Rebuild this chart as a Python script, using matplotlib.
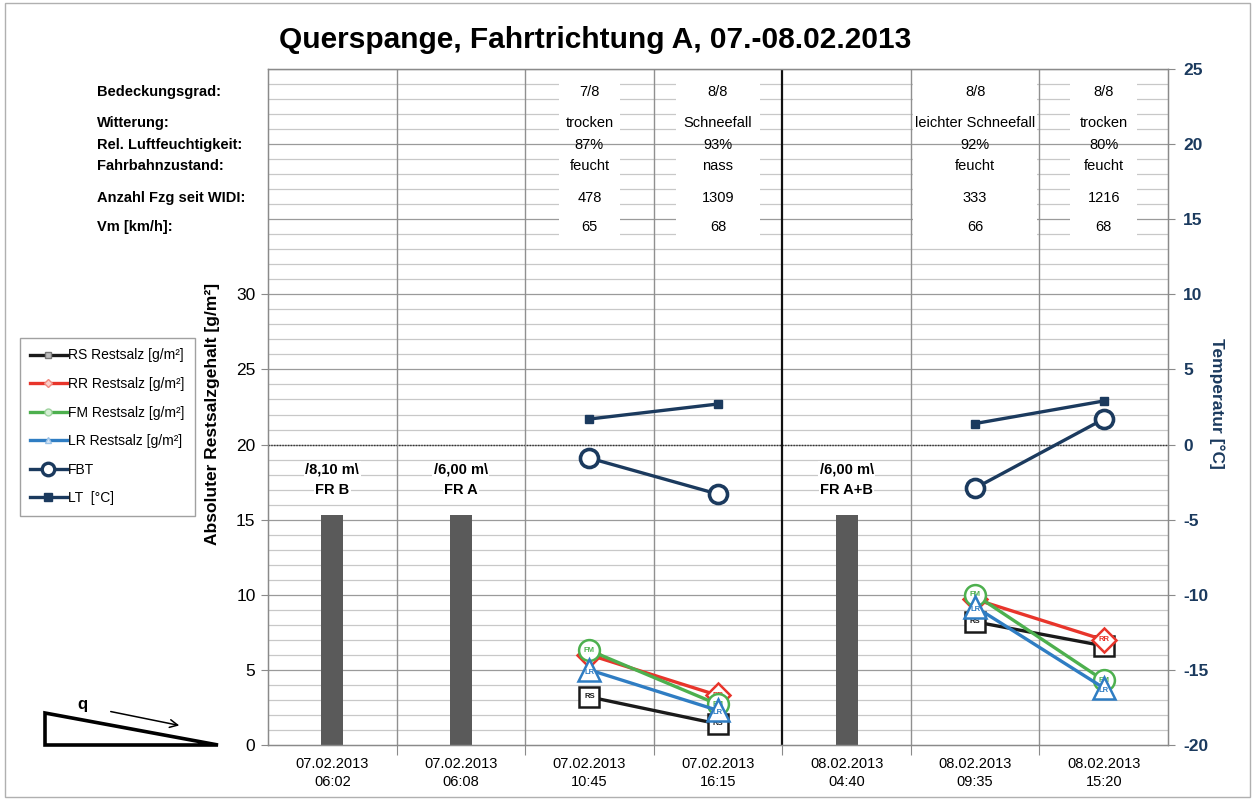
import numpy as np
import matplotlib
matplotlib.use("Agg")
import matplotlib.pyplot as plt
import matplotlib.transforms as mtransforms
from matplotlib.lines import Line2D
from matplotlib.patches import Rectangle, Polygon, FancyArrowPatch

plt.rcParams['font.family'] = ['Liberation Sans', 'DejaVu Sans']
plt.rcParams['axes.unicode_minus'] = False

# ---------------------------------------------------------------- data
categories = ["07.02.2013\n06:02", "07.02.2013\n06:08", "07.02.2013\n10:45",
              "07.02.2013\n16:15", "08.02.2013\n04:40", "08.02.2013\n09:35",
              "08.02.2013\n15:20"]

# spreading sections (bars)
bar_idx = [0, 1, 4]
bar_height = [15.3, 15.3, 15.3]
bar_width_txt = ["/8,10 m\\", "/6,00 m\\", "/6,00 m\\"]
bar_dir_txt = ["FR B", "FR A", "FR A+B"]

# residual salt [g/m²] (NaN = no measurement)
nan = np.nan
rs = [nan, nan, 3.2, 1.4, nan, 8.2, 6.6]
rr = [nan, nan, 6.0, 3.3, nan, 9.7, 7.0]
fm = [nan, nan, 6.3, 2.7, nan, 10.0, 4.3]
lr = [nan, nan, 5.0, 2.3, nan, 9.2, 3.8]

# temperatures [°C]
fbt = [nan, nan, -0.9, -3.3, nan, -2.9, 1.7]
lt = [nan, nan, 1.7, 2.7, nan, 1.4, 2.9]

# weather info table
info_rows = ["Bedeckungsgrad:", "Witterung:", "Rel. Luftfeuchtigkeit:",
             "Fahrbahnzustand:", "Anzahl Fzg seit WIDI:", "Vm [km/h]:"]
info_cols = [2, 3, 5, 6]
bedeckung = ["7/8", "8/8", "8/8", "8/8"]
witterung = ["trocken", "Schneefall", "leichter Schneefall", "trocken"]
feuchte = ["87%", "93%", "92%", "80%"]
fahrbahn = ["feucht", "nass", "feucht", "feucht"]
anzahl = ["478", "1309", "333", "1216"]
vm = ["65", "68", "66", "68"]

# ---------------------------------------------------------------- style
W, H = 1255, 800
navy = "#1B3A5E"
c_rs, c_rr, c_fm, c_lr = "#1a1a1a", "#E8352B", "#4DB04E", "#2F7DC3"

fig = plt.figure(figsize=(W / 100, H / 100), dpi=100)
L, R, T, B = 268, 1168, 69, 745
ax = fig.add_axes([L / W, 1 - B / H, (R - L) / W, (B - T) / H])
ax.set_xlim(-0.5, 6.5)
ax.set_ylim(0, 45)

# horizontal grid
for y in range(1, 46):
    ax.axhline(y, color="#9a9a9a" if y % 5 == 0 else "#c8c8c8",
               lw=0.9, zorder=0.5)
ax.axhline(20, color="#333333", lw=1.0, ls=(0, (1, 1)), zorder=0.6)

# vertical separators
for xs in np.arange(0.5, 6.5, 1.0):
    if xs == 3.5:
        ax.axvline(xs, color="#111111", lw=1.6, zorder=0.7)
    else:
        ax.axvline(xs, color="#909090", lw=1.0, zorder=0.7)

for sp in ax.spines.values():
    sp.set_color("#8a8a8a")
    sp.set_linewidth(1.0)

# bars with section labels
ax.bar(bar_idx, bar_height, width=0.17, color="#5a5a5a", zorder=2)
for xi, t1, t2 in zip(bar_idx, bar_width_txt, bar_dir_txt):
    ax.text(xi, 18.35, t1, ha="center", va="center", fontsize=10.5,
            fontweight="bold", zorder=3,
            bbox=dict(facecolor="white", edgecolor="none", pad=1))
    ax.text(xi, 17.0, t2, ha="center", va="center", fontsize=10.5,
            fontweight="bold", zorder=3,
            bbox=dict(facecolor="white", edgecolor="none", pad=1))

x = np.arange(len(categories))

# residual salt series
series = [(rs, c_rs, "s", "RS", 15), (rr, c_rr, "D", "RR", 12),
          (fm, c_fm, "o", "FM", 15), (lr, c_lr, "^", "LR", 16)]
for k, (vals, col, mk, tag, ms) in enumerate(series):
    ax.plot(x, vals, color=col, lw=2.4, marker=mk, ms=ms, mfc="white",
            mec=col, mew=1.8, zorder=4 + k)
    for xi, v in zip(x, vals):
        if not np.isnan(v):
            dy = -0.15 if mk == "^" else 0
            ax.text(xi, v + dy, tag, ha="center", va="center", fontsize=5.5,
                    fontweight="bold", color=col, zorder=4.5 + k)

# left axis ticks / labels
ax.set_yticks(range(0, 31, 5))
ax.tick_params(axis="y", direction="out", length=5, color="#8a8a8a",
               labelsize=12.5, pad=4)
ax.set_xticks(np.arange(0.5, 6.5, 1.0))
ax.set_xticklabels([])
ax.set_xticks(x, minor=True)
ax.set_xticklabels(categories, minor=True, fontsize=10.5, linespacing=1.35)
ax.tick_params(axis="x", which="major", direction="out", length=7,
               color="#8a8a8a")
ax.tick_params(axis="x", which="minor", length=0, pad=9)
ax.set_ylabel("Absoluter Restsalzgehalt [g/m²]", fontsize=12.5,
              fontweight="bold", labelpad=4)
ax.yaxis.set_label_coords(-0.053, 0.49)

# temperature axis
ax2 = ax.twinx()
ax2.set_ylim(-20, 25)
ax2.plot(x, lt, color=navy, lw=2.4, marker="s", ms=6, zorder=5)
ax2.plot(x, fbt, color=navy, lw=2.4, marker="o", ms=13, mfc="white",
         mec=navy, mew=2.6, zorder=5)
ax2.set_yticks(range(-20, 26, 5))
ax2.tick_params(axis="y", direction="out", length=5, color="#8a8a8a",
                labelsize=12.5, labelcolor=navy, pad=6)
for lab in ax2.get_yticklabels():
    lab.set_fontweight("bold")
ax2.set_ylabel("Temperatur [°C]", fontsize=12.5, fontweight="bold",
               color=navy, rotation=270, labelpad=18)
ax2.yaxis.set_label_coords(1.063, 0.505)
for sp in ax2.spines.values():
    sp.set_color("#8a8a8a")

# weather info table
row_y = [43.47, 41.4, 39.93, 38.53, 36.4, 34.47]
box_w = [0.47, 0.65, 0.96, 0.52]
for cx, bw in zip(info_cols, box_w):
    ax.add_patch(Rectangle((cx - bw / 2, 40.5), bw, 4.0, facecolor="white",
                           edgecolor="none", zorder=1))
    ax.add_patch(Rectangle((cx - bw / 2, 33.7), bw, 5.85, facecolor="white",
                           edgecolor="none", zorder=1))
columns = [bedeckung, witterung, feuchte, fahrbahn, anzahl, vm]
for yv, vals in zip(row_y, columns):
    for cx, v in zip(info_cols, vals):
        ax.text(cx, yv, v, ha="center", va="center", fontsize=10.5, zorder=3)

blend = mtransforms.blended_transform_factory(fig.transFigure, ax.transData)
for yv, lab in zip(row_y, info_rows):
    ax.text(97 / W, yv, lab, transform=blend, ha="left", va="center",
            fontsize=10.5, fontweight="bold", clip_on=False)

# title
fig.text(595 / W, 1 - 40 / H, "Querspange, Fahrtrichtung A, 07.-08.02.2013",
         ha="center", va="center", fontsize=21.5, fontweight="bold")

# legend
handles = [
    Line2D([], [], color=c_rs, lw=2.4, marker="s", ms=5, mfc="#bdbdbd",
           mec="#777777"),
    Line2D([], [], color=c_rr, lw=2.4, marker="D", ms=4.5, mfc="#fbd0cc",
           mec="#f08a80"),
    Line2D([], [], color=c_fm, lw=2.4, marker="o", ms=5, mfc="#d5efd5",
           mec="#9fd39f"),
    Line2D([], [], color=c_lr, lw=2.4, marker="^", ms=5, mfc="#d6e6f6",
           mec="#9cc2e6"),
    Line2D([], [], color=navy, lw=2.4, marker="o", ms=9, mfc="white",
           mec=navy, mew=2.4),
    Line2D([], [], color=navy, lw=2.4, marker="s", ms=5.5),
]
labels = ["RS Restsalz [g/m²]", "RR Restsalz [g/m²]", "FM Restsalz [g/m²]",
          "LR Restsalz [g/m²]", "FBT", "LT  [°C]"]
leg = fig.legend(handles, labels, loc="upper left",
                 bbox_to_anchor=(20 / W, 1 - 338 / H), fontsize=10,
                 frameon=True, fancybox=False, edgecolor="#8a8a8a",
                 handlelength=2.6, handletextpad=0.1, labelspacing=1.05,
                 borderpad=0.75, borderaxespad=0)
leg.get_frame().set_linewidth(1.0)

# overlay: frame, cross-slope sketch
ov = fig.add_axes([0, 0, 1, 1], zorder=-1)
ov.set_xlim(0, W)
ov.set_ylim(H, 0)
ov.axis("off")
ov.add_patch(Rectangle((5, 3), W - 10, H - 6, fill=False,
                       edgecolor="#b0b0b0", lw=1.0))
ov.add_patch(Polygon([(45, 713), (45, 745), (218, 745)], closed=True,
                     fill=False, edgecolor="black", lw=2.6, joinstyle="miter"))
ov.text(82, 704, "q", ha="center", va="center", fontsize=12,
        fontweight="bold")
ov.add_patch(FancyArrowPatch((108, 711), (182, 726), arrowstyle="->",
                             mutation_scale=14, color="black", lw=1.1))

fig.savefig("out.png", dpi=100)
